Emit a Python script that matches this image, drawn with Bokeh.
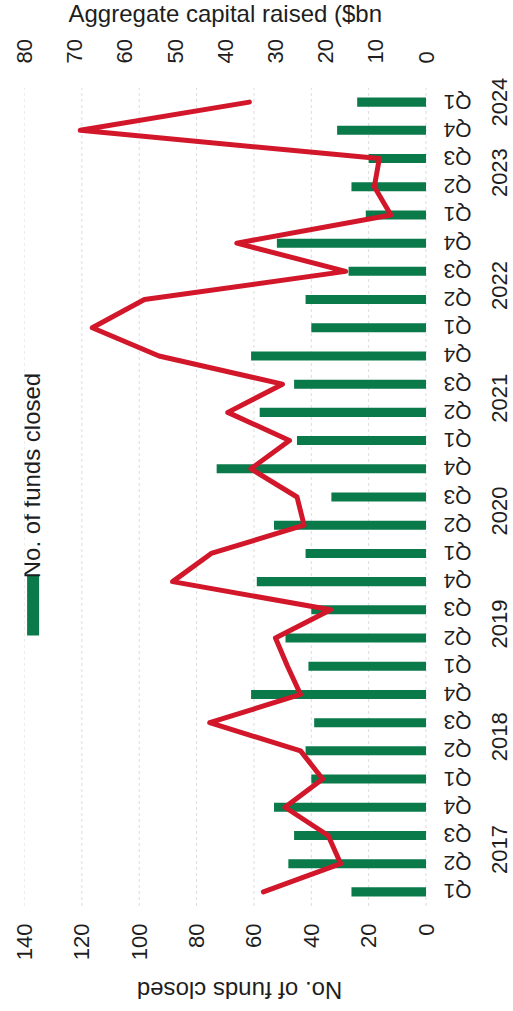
import math

from bokeh.core.properties import value
from bokeh.embed import file_html
from bokeh.layouts import column
from bokeh.models import (ColumnDataSource, FactorRange, FixedTicker, Label,
                          LinearAxis, Range1d)
from bokeh.plotting import figure
from bokeh.resources import INLINE

# Quarterly fundraising, Q1 2017 - Q1 2024
years = ["2017", "2018", "2019", "2020", "2021", "2022", "2023", "2024"]
quarters = ["Q1", "Q2", "Q3", "Q4"]
periods = [(y, q) for y in years for q in quarters][:29]

funds_closed = [26, 48, 46, 53, 40, 42, 39, 61, 41, 49, 40, 59, 42, 53, 33,
                73, 45, 58, 46, 61, 40, 42, 27, 52, 21, 26, 20, 31, 24]
capital_bn = [32.4, 17.0, 19.5, 28.1, 20.6, 25.0, 43.1, 25.0, 27.6, 30.0,
              19.0, 50.5, 42.8, 24.3, 25.7, 34.9, 27.2, 39.5, 28.6, 53.2,
              66.5, 56.1, 16.0, 37.7, 7.0, 10.3, 9.3, 68.9, 35.2]

funds_ticks = [0, 20, 40, 60, 80, 100, 120, 140]
capital_ticks = [0, 10, 20, 30, 40, 50, 60, 70, 80]

FUNDS_MAX, CAPITAL_MAX = 140, 80
GUTTER = 30.5          # room right of zero (funds units) for the period labels
QUARTER_X = -6.1
YEAR_X = -25.6
EDGE_PAD = 0.55        # extra category room above/below so year labels fit

GREEN = "#0a7a4b"
RED = "#d2172b"
INK = "#1e1e1e"
FONT = value("Liberation Sans")
W = 513

src = ColumnDataSource(dict(period=periods,
                            quarter=[q for _, q in periods],
                            funds=funds_closed,
                            capital=capital_bn))
year_src = ColumnDataSource(dict(year=years))
grid_src = ColumnDataSource(dict(x=funds_ticks,
                                 y0=[0] * len(funds_ticks),
                                 y1=[len(periods)] * len(funds_ticks)))

funds_range = Range1d(FUNDS_MAX, -GUTTER)
capital_range = Range1d(CAPITAL_MAX, -GUTTER * CAPITAL_MAX / FUNDS_MAX)


def bare(fig):
    fig.outline_line_color = None
    fig.background_fill_color = "white"
    fig.border_fill_color = "white"
    return fig


# ---- main plot -------------------------------------------------------------
p = bare(figure(width=W, height=937,
                y_range=FactorRange(factors=periods, range_padding=EDGE_PAD,
                                    range_padding_units="absolute",
                                    group_padding=0, factor_padding=0),
                x_range=funds_range, y_axis_location=None,
                output_backend="svg", toolbar_location=None,
                min_border_left=24, min_border_right=0,
                min_border_top=39, min_border_bottom=49))

p.extra_x_ranges = {"cap": capital_range}
top = LinearAxis(x_range_name="cap", ticker=FixedTicker(ticks=capital_ticks))
p.add_layout(top, "above")
bottom = p.below[0]
bottom.ticker = FixedTicker(ticks=funds_ticks)

for ax in (top, bottom):
    ax.axis_line_color = None
    ax.major_tick_line_color = None
    ax.minor_tick_line_color = None
    ax.major_label_orientation = math.pi / 2
    ax.major_label_text_font = "Liberation Sans"
    ax.major_label_text_font_size = "22px"
    ax.major_label_text_color = INK
top.major_label_standoff = 3
bottom.major_label_standoff = -4

p.grid.visible = False
p.segment(x0="x", y0="y0", x1="x", y1="y1", source=grid_src,
          line_color="#dcdcdc", line_dash="3 3", line_width=1)

# funds closed as bars, capital raised as a line on the second scale
p.hbar(y="period", left=0, right="funds", height=0.32, source=src,
       fill_color=GREEN, line_color=None)
p.line(x="capital", y="period", source=src, x_range_name="cap",
       line_color=RED, line_width=5, line_join="round", line_cap="round")

# period labels: quarters upside down, years centred on their group
p.text(x=QUARTER_X, y="period", text="quarter", source=src, angle=math.pi,
       text_align="right", text_baseline="middle", text_font=FONT,
       text_font_size="21px", text_color=INK)
p.text(x=YEAR_X, y="year", text="year", source=year_src, angle=math.pi / 2,
       text_align="center", text_baseline="middle", text_font=FONT,
       text_font_size="22px", text_color=INK)

# legend key, laid out along the category direction
p.rect(x=[137.0], y=[10.65], width=12, height=60, width_units="screen",
       height_units="screen", fill_color=GREEN, line_color=None)
p.add_layout(Label(x=137.4, y=11.62, text="No. of funds closed",
                   angle=math.pi / 2, text_align="left",
                   text_baseline="middle", text_font="Liberation Sans",
                   text_font_size="24px", text_color=INK))

# ---- axis titles -----------------------------------------------------------
head = bare(figure(width=W, height=33, x_range=funds_range,
                   y_range=Range1d(33, 0), x_axis_location=None,
                   y_axis_location=None, output_backend="svg",
                   toolbar_location=None, min_border_left=24,
                   min_border_right=0, min_border_top=0, min_border_bottom=0))
head.grid.visible = False
head.text(x=[FUNDS_MAX / 2], y=[13], text=["Aggregate capital raised ($bn"],
          text_align="center", text_baseline="middle", text_font=FONT,
          text_font_size="24px", text_color=INK)

foot = bare(figure(width=W, height=41, x_range=funds_range,
                   y_range=Range1d(41, 0), x_axis_location=None,
                   y_axis_location=None, output_backend="svg",
                   toolbar_location=None, min_border_left=24,
                   min_border_right=0, min_border_top=0, min_border_bottom=0))
foot.grid.visible = False
foot.text(x=[65.0], y=[19.5], text=["No. of funds closed"], angle=math.pi,
          text_align="center", text_baseline="middle", text_font=FONT,
          text_font_size="24px", text_color=INK)

page = column(head, p, foot, spacing=0)
open("out.html", "w").write(file_html(page, INLINE))
